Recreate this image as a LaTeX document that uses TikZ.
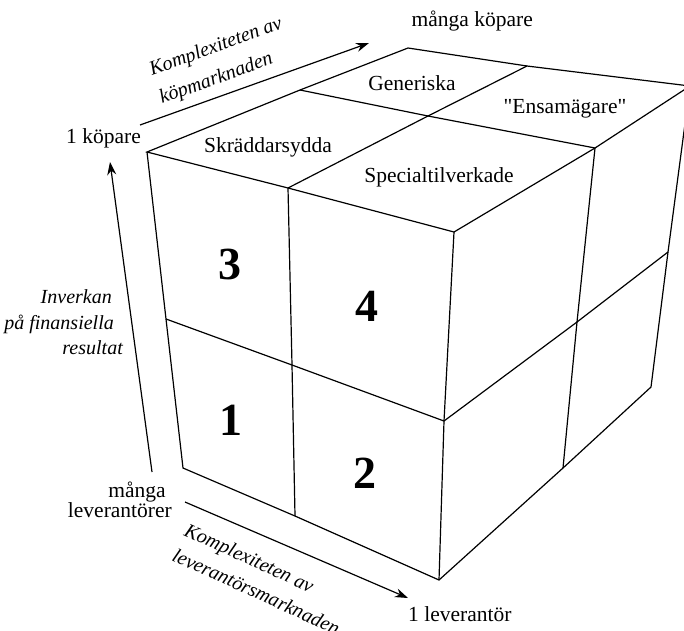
\documentclass[tikz,border=0pt]{standalone}
\usepackage{fontspec}
\setmainfont{Liberation Serif}[Ligatures=TeXOff]
\usetikzlibrary{arrows.meta}
\begin{document}
\begin{tikzpicture}[x=1pt,y=-1pt,
  edge/.style={line width=1.2pt, line join=miter},
  axis/.style={line width=1.2pt,-{Stealth[length=13pt,width=9pt]}},
  cell/.style={font=\fontsize{21.5}{24}\selectfont, inner sep=0pt},
  axislabel/.style={font=\fontsize{21.5}{24}\selectfont, inner sep=0pt},
  slanted/.style={font=\fontsize{20}{24}\selectfont\itshape, inner sep=0pt},
  digit/.style={font=\fontsize{46}{50}\selectfont\bfseries, inner sep=0pt}]
\useasboundingbox (0,0) rectangle (684,630);

% top face corners and mid points
\coordinate (TL) at (147,152);
\coordinate (TB) at (408,48);
\coordinate (TR) at (690,86);
\coordinate (TF) at (454,232);
\coordinate (mLB) at (300,90);
\coordinate (mBR) at (527,66);
\coordinate (mLF) at (288,188);
\coordinate (mFR) at (595,148);
\coordinate (C) at (428,116);
% lower corners
\coordinate (BL) at (183,468);
\coordinate (BF) at (439,580);
\coordinate (BR) at (651,387);
% side face mid points
\coordinate (mLe) at (166,319);
\coordinate (mLc) at (292,365);
\coordinate (mF) at (444,421);
\coordinate (mRc) at (577,322);
\coordinate (mRe) at (668,252);
\coordinate (bL) at (295,516);
\coordinate (bR) at (563,468);

% cube outline
\draw[edge] (TL) -- (mLB) -- (TB) -- (mBR) -- (TR) -- (mFR) -- (TF) -- (mLF) -- cycle;
\draw[edge] (TL) -- (mLe) -- (BL) -- (bL) -- (BF) -- (bR) -- (BR) -- (mRe) -- (TR);
\draw[edge] (TF) -- (mF) -- (BF);
% inner division lines
\draw[edge] (mLB) -- (C) -- (mFR);
\draw[edge] (mBR) -- (C) -- (mLF);
\draw[edge] (mLF) -- (mLc) -- (bL);
\draw[edge] (mLe) -- (mLc) -- (mF) -- (mRc) -- (mRe);
\draw[edge] (mFR) -- (mRc) -- (bR);

% top face labels
\node[cell, anchor=base] (skr) at (268,152) {Skräddarsydda};
\node[cell, anchor=base] (gen) at (412,90) {Generiska};
\node[cell, anchor=base] (ens) at (565,113) {"Ensamägare"};
\node[cell, anchor=base] (spe) at (439,182) {Specialtilverkade};

% quadrant numbers
\node[digit] (n3) at (230,264) {3};
\node[digit] (n4) at (367,306) {4};
\node[digit] (n1) at (231,420) {1};
\node[digit] (n2) at (365,473) {2};

% axes
\coordinate (a1s) at (140,125);
\coordinate (a1e) at (369,43);
\coordinate (a2s) at (152,472);
\coordinate (a2e) at (110,162);
\coordinate (a3s) at (185,502);
\coordinate (a3e) at (408,598);
\draw[axis] (a1s) -- (a1e);
\draw[axis] (a2s) -- (a2e);
\draw[axis] (a3s) -- (a3e);

% axis end labels
\node[axislabel, anchor=base west] (k1) at (66,143) {1 köpare};
\node[axislabel, anchor=base east] (km) at (533,26) {många köpare};
\node[axislabel, anchor=base] (lm) at (137,497) {många};
\node[axislabel, anchor=base east] (lm2) at (172,517) {leverantörer};
\node[axislabel, anchor=base west] (l1) at (408,621) {1 leverantör};

% axis titles
\node[slanted, anchor=base west, rotate=20] (t1) at (152,76) {Komplexiteten av};
\node[slanted, anchor=base west, rotate=20] (t2) at (162,104) {köpmarknaden};
\node[slanted, anchor=base east] (v1) at (112,303) {Inverkan};
\node[slanted, anchor=base east] (v2) at (114,329) {på finansiella};
\node[slanted, anchor=base east] (v3) at (123,354) {resultat};
\node[slanted, anchor=base west, rotate=-24.5] (b1) at (183,535) {Komplexiteten av};
\node[slanted, anchor=base west, rotate=-24.5] (b2) at (171,560) {leverantörsmarknaden};
\end{tikzpicture}
\end{document}
